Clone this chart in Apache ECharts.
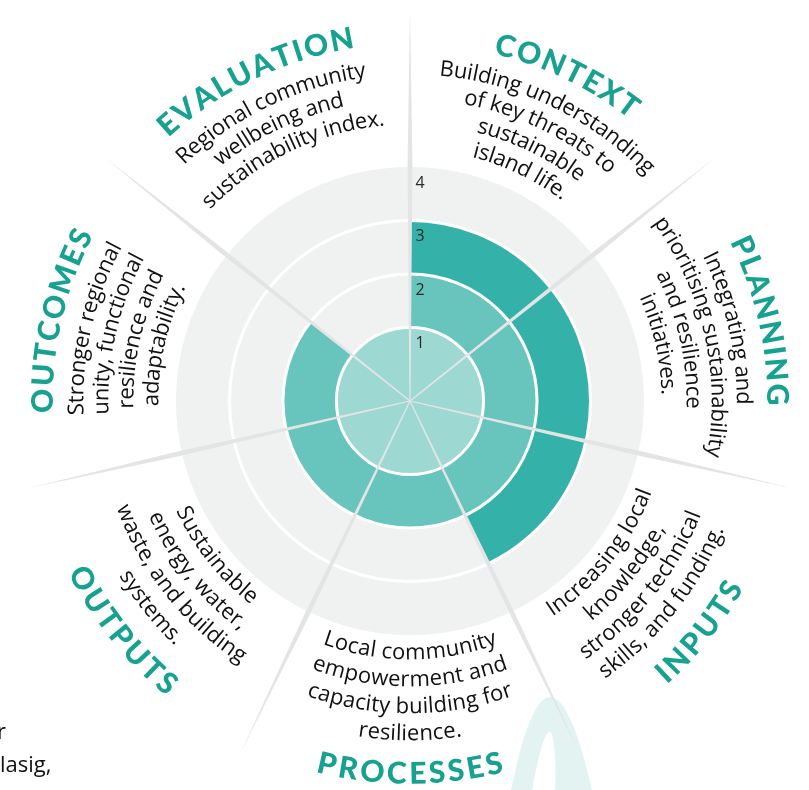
<!DOCTYPE html>
<html>
<head>
<meta charset="utf-8">
<script src="https://cdn.jsdelivr.net/npm/echarts@6/dist/echarts.min.js"></script>
<style>
html, body { margin: 0; padding: 0; background: #fff; }
#main { width: 809px; height: 790px; }
</style>
</head>
<body>
<div id="main"></div>
<script>
// data
var stages = ['CONTEXT', 'PLANNING', 'INPUTS', 'PROCESSES', 'OUTPUTS', 'OUTCOMES', 'EVALUATION'];
var scores = [3, 3, 3, 2, 2, 2, 1];
var maxScore = 4;
var ringLevels = [1, 2, 3];
var tickLabels = ['1', '2', '3', '4'];
var descriptions = [
  ['Building understanding', 'of key threats to', 'sustainable', 'island life.'],
  ['Integrating and', 'prioritising sustainability', 'and resilience', 'initiatives.'],
  ['Increasing local', 'knowledge,', 'stronger technical', 'skills, and funding.'],
  ['Local community', 'empowerment and', 'capacity building for', 'resilience.'],
  ['Sustainable', 'energy, water,', 'waste, and building', 'systems.'],
  ['Stronger regional', 'unity, functional', 'resilience and', 'adaptability.'],
  ['Regional community', 'wellbeing and', 'sustainability index.']
];

var levelColors = ['#9dd8d3', '#67c5bd', '#34b2a9'];
var headColor = '#16a191';
var headFont = { size: 30, family: 'Lato', weight: '900', spacing: 2.5 };
var bodyFont = { size: 22, family: 'Open Sans', weight: 'normal', spacing: 0 };

var measureCtx = document.createElement('canvas').getContext('2d');

// point on polar coords: radius (px) and zrender angle
function polarInfo(params, api, value, cat) {
  var p = api.coord([value, cat]);
  var cx = params.coordSys.cx, cy = params.coordSys.cy;
  var dx = p[0] - cx, dy = p[1] - cy;
  return { cx: cx, cy: cy, r: Math.sqrt(dx * dx + dy * dy), a: Math.atan2(dy, dx) };
}

// lay characters of one line along an arc
function arcText(out, str, f, color, cx, cy, R, phi, top) {
  measureCtx.font = f.weight + ' ' + f.size + 'px "' + f.family + '"';
  var chars = str.split('');
  var widths = chars.map(function (ch) { return measureCtx.measureText(ch).width + f.spacing; });
  var L = widths.reduce(function (a, b) { return a + b; }, 0) - f.spacing;
  var s = 0;
  chars.forEach(function (ch, i) {
    var mid = s + widths[i] / 2 - f.spacing / 2;
    s += widths[i];
    var t = (mid - L / 2) / R;
    var ph = top ? phi + t : phi - t;
    out.push({
      type: 'text',
      x: cx + R * Math.sin(ph),
      y: cy - R * Math.cos(ph),
      rotation: top ? -ph : Math.PI - ph,
      style: {
        text: ch, fill: color, fontSize: f.size, fontFamily: f.family,
        fontWeight: f.weight, align: 'center', verticalAlign: 'middle'
      }
    });
  });
}

// faint arch decoration at the bottom
function quadPts(x0, y0, qx, qy, x1, y1) {
  var pts = [];
  for (var i = 0; i <= 24; i++) {
    var t = i / 24, u = 1 - t;
    pts.push([u * u * x0 + 2 * u * t * qx + t * t * x1, u * u * y0 + 2 * u * t * qy + t * t * y1]);
  }
  return pts;
}
var archOuter = quadPts(511, 790, 549, 604, 592, 790);
var archHole = quadPts(532, 790, 545, 720, 552, 734).concat(quadPts(552, 734, 557, 760, 555, 790).slice(1));

var chart = echarts.init(document.getElementById('main'));

chart.setOption({
  animation: false,
  backgroundColor: '#ffffff',
  polar: { center: [410, 401], radius: 234 },
  angleAxis: { type: 'category', data: stages, startAngle: 90, clockwise: true, show: false },
  radiusAxis: { type: 'value', min: -0.375, max: maxScore, show: false },
  graphic: [
    { type: 'polygon', z: 0, shape: { points: archOuter }, style: { fill: '#e3f3f1' } },
    { type: 'polygon', z: 0, shape: { points: archHole }, style: { fill: '#ffffff' } },
    { type: 'text', z: 0, x: -3, y: 722, style: { text: 'r', fill: '#111', fontSize: 22, fontFamily: 'Open Sans' } },
    { type: 'text', z: 0, x: 0, y: 755, style: { text: 'lasig,', fill: '#111', fontSize: 22, fontFamily: 'Open Sans' } }
  ],
  series: [
    {
      // grey background disc
      type: 'custom', coordinateSystem: 'polar', z: 1,
      data: stages.map(function (d, i) { return [maxScore, i]; }),
      renderItem: function (params, api) {
        var cat = api.value(1);
        var o = polarInfo(params, api, api.value(0), cat);
        var half = api.size([0, 1], [api.value(0), cat])[1] / 2;
        return {
          type: 'sector',
          shape: { cx: o.cx, cy: o.cy, r0: 0, r: o.r, startAngle: o.a - half, endAngle: o.a + half, clockwise: true },
          style: { fill: '#f0f1f1' }
        };
      }
    },
    {
      // score layers
      type: 'custom', coordinateSystem: 'polar', z: 2,
      data: scores.map(function (s, i) { return [s, i]; }),
      renderItem: function (params, api) {
        var s = api.value(0), cat = api.value(1);
        var half = api.size([0, 1], [s, cat])[1] / 2;
        var children = [];
        for (var lv = 1; lv <= s; lv++) {
          var o = polarInfo(params, api, lv, cat);
          var r0 = lv === 1 ? 0 : polarInfo(params, api, lv - 1, cat).r;
          children.push({
            type: 'sector',
            shape: { cx: o.cx, cy: o.cy, r0: r0, r: o.r, startAngle: o.a - half, endAngle: o.a + half, clockwise: true },
            style: { fill: levelColors[lv - 1] }
          });
        }
        return { type: 'group', children: children };
      }
    },
    {
      // white rings
      type: 'custom', coordinateSystem: 'polar', z: 3,
      data: ringLevels.map(function (v) { return [v, 0]; }),
      renderItem: function (params, api) {
        var o = polarInfo(params, api, api.value(0), 0);
        return {
          type: 'circle',
          shape: { cx: o.cx, cy: o.cy, r: o.r },
          style: { fill: 'none', stroke: '#ffffff', lineWidth: 3 }
        };
      }
    },
    {
      // spokes between stages
      type: 'custom', coordinateSystem: 'polar', z: 4,
      data: stages.map(function (d, i) { return [maxScore, i]; }),
      renderItem: function (params, api) {
        var cat = api.value(1);
        var o = polarInfo(params, api, api.value(0), cat);
        var half = api.size([0, 1], [api.value(0), cat])[1] / 2;
        var th = o.a - half;
        var ux = Math.cos(th), uy = Math.sin(th), nx = -uy, ny = ux;
        function pt(r, w) { return [o.cx + ux * r + nx * w, o.cy + uy * r + ny * w]; }
        return {
          type: 'polygon',
          shape: { points: [pt(0, 0.6), pt(240, 2.4), pt(392, 0), pt(240, -2.4), pt(0, -0.6)] },
          style: { fill: '#e3e4e6' }
        };
      }
    },
    {
      // radial tick labels
      type: 'custom', coordinateSystem: 'polar', z: 5,
      data: tickLabels.map(function (t) { return [Number(t), 0]; }),
      renderItem: function (params, api) {
        var o = polarInfo(params, api, api.value(0), 0);
        return {
          type: 'text',
          x: o.cx + 10, y: o.cy - o.r + 16,
          style: { text: tickLabels[params.dataIndex], fill: '#2a2a2a', fontSize: 16, fontFamily: 'Open Sans', align: 'center', verticalAlign: 'middle' }
        };
      }
    },
    {
      // stage headings and descriptions, set on arcs
      type: 'custom', coordinateSystem: 'polar', z: 5,
      data: stages.map(function (d, i) { return [maxScore, i]; }),
      renderItem: function (params, api) {
        var cat = api.value(1);
        var o = polarInfo(params, api, api.value(0), cat);
        var phi = o.a + Math.PI / 2;
        var top = Math.cos(phi) > 0;
        var children = [];
        var Rh = top ? 367 : 373;
        arcText(children, stages[cat], headFont, headColor, o.cx, o.cy, Rh, phi, top);
        var lines = descriptions[cat];
        var n = lines.length;
        lines.forEach(function (line, k) {
          var R = top ? 333 - k * 25 : 333 - (n - 1 - k) * 27;
          arcText(children, line, bodyFont, '#111111', o.cx, o.cy, R, phi, top);
        });
        return { type: 'group', children: children };
      }
    }
  ]
});
</script>
</body>
</html>
